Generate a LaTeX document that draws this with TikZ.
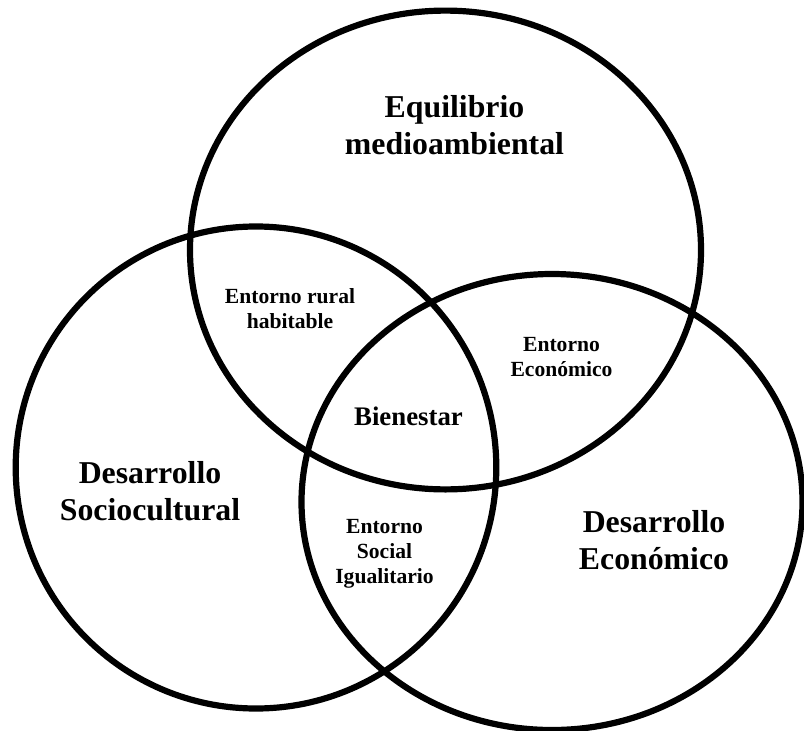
\documentclass[tikz,border=0pt]{standalone}
\usepackage{fontspec}
\setmainfont{Liberation Serif}
\begin{document}
\begin{tikzpicture}[x=1pt,y=-1pt,
  ring/.style={line width=6.2pt, draw=black},
  biglabel/.style={align=center, font=\bfseries\fontsize{31.8}{37}\selectfont, inner sep=0pt},
  midlabel/.style={align=center, font=\bfseries\fontsize{26.8}{31}\selectfont, inner sep=0pt},
  smalllabel/.style={align=center, font=\bfseries\fontsize{21.6}{25}\selectfont, inner sep=0pt}]
\useasboundingbox (0,0) rectangle (804,731);
\coordinate (ctop) at (445.5,250);
\coordinate (cleft) at (256,467.5);
\coordinate (cright) at (552,502);
\draw[ring] (ctop) ellipse [x radius=255.5, y radius=239.4];
\draw[ring] (cleft) ellipse [x radius=240.3, y radius=241];
\draw[ring] (cright) ellipse [x radius=250.5, y radius=228];
\node[biglabel] (eq) at (454.5,125) {Equilibrio\\medioambiental};
\node[biglabel] (ds) at (150,491) {Desarrollo\\Sociocultural};
\node[biglabel] (de) at (654,540) {Desarrollo\\Económico};
\node[midlabel] (bi) at (408.5,416) {Bienestar};
\node[smalllabel] (er) at (290,309) {Entorno rural\\habitable};
\node[smalllabel] (ee) at (561.5,357.5) {Entorno\\Económico};
\node[smalllabel] (es) at (384.5,554) {Entorno\\Social\\Igualitario};
\end{tikzpicture}
\end{document}
